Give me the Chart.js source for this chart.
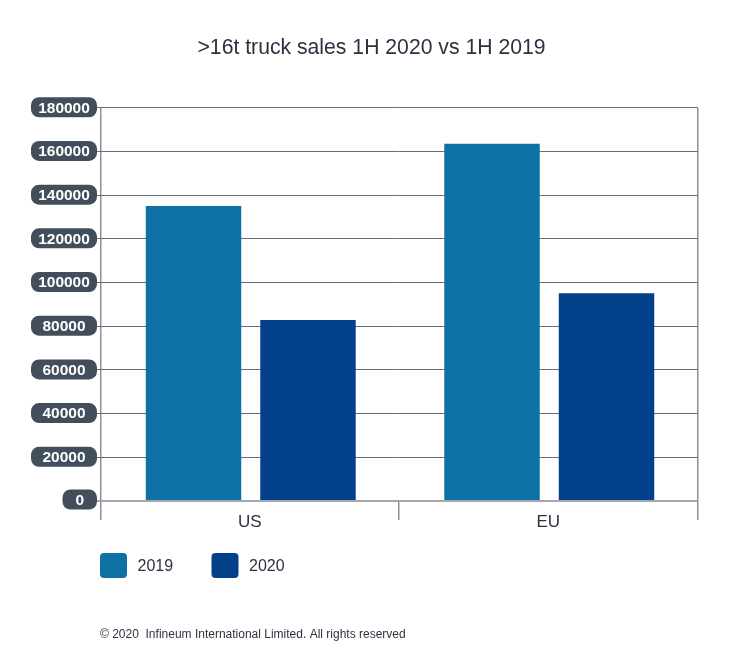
<!DOCTYPE html>
<html>
<head>
<meta charset="utf-8">
<style>
  html, body { margin: 0; padding: 0; background: #fff; }
  canvas { display: block; }
</style>
<script src="https://cdn.jsdelivr.net/npm/chart.js@4"></script>
</head>
<body>
<canvas id="truckChart" width="730" height="653"></canvas>
<script>
var categories = ['US', 'EU'];
var series2019 = [135000, 163500];
var series2020 = [82800, 95100];
var seriesNames = ['2019', '2020'];
var seriesColors = ['#0d72a3', '#03408a'];
var titleText = '>16t truck sales 1H 2020 vs 1H 2019';
var copyrightText = '\u00a9 2020  Infineum International Limited. All rights reserved';

var fontName = '"Liberation Sans", Arial, sans-serif';
var textColor = '#2b3340';
var gridColor = '#636d78';
var axisColor = '#8b919b';
var pillColor = '#434e5c';

// the pills behind the y labels, the legend and the copyright line are not
// something chart.js does by itself
var extras = {
  id: 'extras',
  // bars sit one pixel right of the group centre in the original
  beforeDatasetDraw: function(chart) {
    chart.ctx.save();
    chart.ctx.translate(1, 0);
  },
  afterDatasetDraw: function(chart) {
    chart.ctx.restore();
  },
  afterDraw: function(chart) {
    var ctx = chart.ctx;
    var yScale = chart.scales.y;
    ctx.save();

    yScale.ticks.forEach(function(tick, i) {
      var y = yScale.getPixelForTick(i);
      var zero = tick.value === 0;
      var left = zero ? 62.5 : 31;
      var mid = zero ? y - 1.5 : y - 0.5;
      ctx.fillStyle = pillColor;
      ctx.beginPath();
      ctx.roundRect(left, mid - 10, 97 - left, 20, 8);
      ctx.fill();
      ctx.fillStyle = '#ffffff';
      ctx.font = 'bold 15.5px ' + fontName;
      ctx.textAlign = 'center';
      ctx.textBaseline = 'middle';
      ctx.fillText(String(tick.value), (left + 97) / 2, mid + 1);
    });

    var legendX = [100, 211.5];
    chart.data.datasets.forEach(function(ds, i) {
      ctx.fillStyle = ds.backgroundColor;
      ctx.beginPath();
      ctx.roundRect(legendX[i], 553, 27, 25, 4);
      ctx.fill();
      ctx.fillStyle = textColor;
      ctx.font = '16px ' + fontName;
      ctx.textAlign = 'left';
      ctx.textBaseline = 'middle';
      ctx.fillText(ds.label, legendX[i] + 37.5, 566.5);
    });

    ctx.fillStyle = textColor;
    ctx.font = '12px ' + fontName;
    ctx.textAlign = 'left';
    ctx.textBaseline = 'middle';
    ctx.fillText(copyrightText, 100, 634.5);
    ctx.restore();
  }
};

var ctx = document.getElementById('truckChart').getContext('2d');
var truckChart = new Chart(ctx, {
  type: 'bar',
  data: {
    labels: categories,
    datasets: [
      { label: seriesNames[0], data: series2019, backgroundColor: seriesColors[0] },
      { label: seriesNames[1], data: series2020, backgroundColor: seriesColors[1] }
    ]
  },
  options: {
    responsive: false,
    animation: false,
    layout: { padding: { left: 45.5, right: 32.5, top: 0, bottom: 0 } },
    categoryPercentage: 0.767,
    barPercentage: 0.834,
    plugins: {
      legend: { display: false },
      tooltip: { enabled: false },
      title: {
        display: true,
        text: titleText,
        color: textColor,
        font: { family: fontName, size: 21.2, weight: 'normal' },
        padding: { top: 35.4, bottom: 46.9 }
      }
    },
    scales: {
      x: {
        afterFit: function(scale) { scale.height = 152; },
        border: { display: false },
        grid: {
          offset: true,
          tickLength: 19,
          lineWidth: 1.5,
          tickColor: axisColor,
          color: function(c) { return c.index === 1 ? 'transparent' : axisColor; }
        },
        ticks: {
          color: textColor,
          padding: -7.5,
          maxRotation: 0,
          font: { family: fontName, size: 17 }
        }
      },
      y: {
        min: 0,
        max: 180000,
        afterFit: function(scale) { scale.width = 55; },
        border: { display: false },
        grid: {
          tickLength: 4,
          lineWidth: function(c) { return c.tick.value === 0 ? 2 : 1; },
          color: function(c) { return c.tick.value === 0 ? '#a3a8b0' : gridColor; }
        },
        ticks: { display: false, stepSize: 20000 }
      }
    }
  },
  plugins: [extras]
});
</script>
</body>
</html>
